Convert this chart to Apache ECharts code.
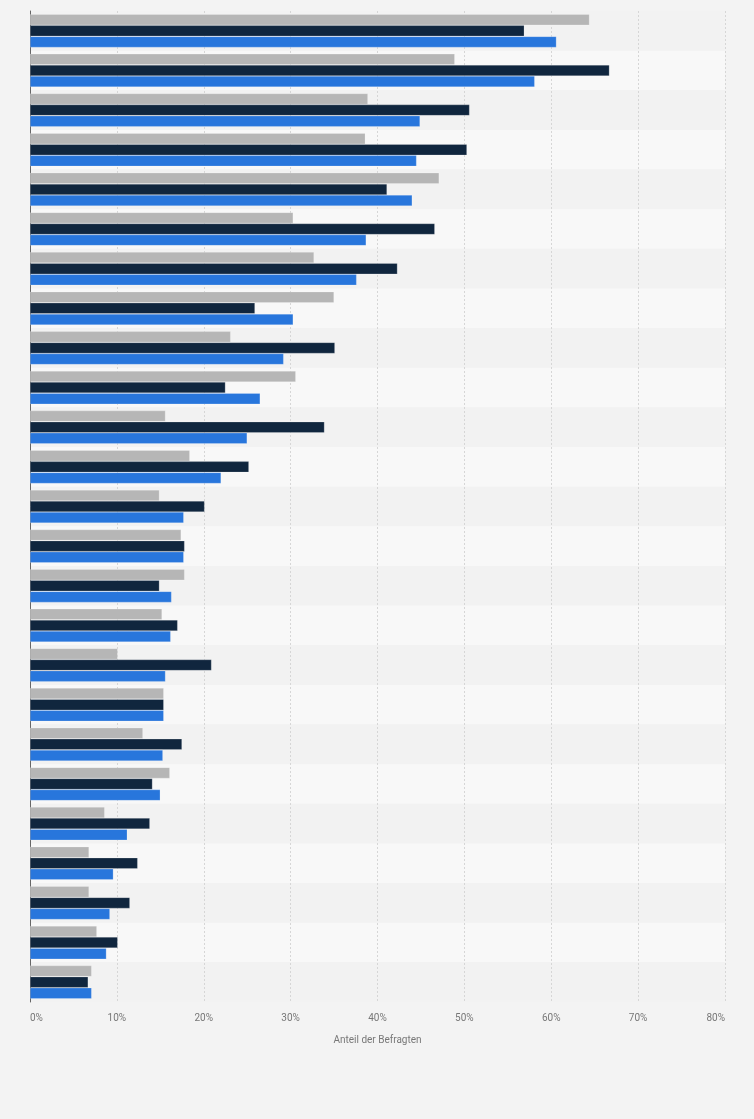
<!DOCTYPE html>
<html>
<head>
<meta charset="utf-8">
<script src="https://cdn.jsdelivr.net/npm/echarts@6/dist/echarts.min.js"></script>
<style>
html,body{margin:0;padding:0;background:#f3f3f3;}
#chart{width:754px;height:1119px;}
</style>
</head>
<body>
<div id="chart"></div>
<script>
const categories = ['K1','K2','K3','K4','K5','K6','K7','K8','K9','K10','K11','K12','K13','K14','K15','K16','K17','K18','K19','K20','K21','K22','K23','K24','K25'];
const seriesGray = [64.4,48.9,38.9,38.6,47.1,30.3,32.7,35.0,23.1,30.6,15.6,18.4,14.9,17.4,17.8,15.2,10.1,15.4,13.0,16.1,8.6,6.8,6.8,7.7,7.1];
const seriesNavy = [56.9,66.7,50.6,50.3,41.1,46.6,42.3,25.9,35.1,22.5,33.9,25.2,20.1,17.8,14.9,17.0,20.9,15.4,17.5,14.1,13.8,12.4,11.5,10.1,6.7];
const seriesBlue = [60.6,58.1,44.9,44.5,44.0,38.7,37.6,30.3,29.2,26.5,25.0,22.0,17.7,17.7,16.3,16.2,15.6,15.4,15.3,15.0,11.2,9.6,9.2,8.8,7.1];
const xTicks = [0,10,20,30,40,50,60,70,80];

const chart = echarts.init(document.getElementById('chart'), null, {renderer:'canvas'});
const barStyle = (c) => ({color:c, borderColor:'rgba(255,255,255,0.35)', borderWidth:0.6});
chart.setOption({
  backgroundColor:'#f3f3f3',
  animation:false,
  grid:{left:30,right:29,top:11,bottom:117,containLabel:false},
  xAxis:{
    type:'value', min:xTicks[0], max:xTicks[xTicks.length-1], interval:10,
    axisLine:{show:false}, axisTick:{show:false},
    axisLabel:{formatter:'{value}%', color:'#777', fontSize:10, fontFamily:'Roboto, sans-serif', margin:11, alignMinLabel:'left', alignMaxLabel:'right'},
    splitLine:{show:true, lineStyle:{color:'#d6d6d6', type:[2,2], width:1}},
    name:'Anteil der Befragten', nameLocation:'middle', nameGap:33,
    nameTextStyle:{color:'#777', fontSize:10, fontFamily:'Roboto, sans-serif'}
  },
  yAxis:{
    type:'category', data:categories, inverse:true,
    axisLine:{show:true, lineStyle:{color:'#666', width:1}},
    axisTick:{show:false}, axisLabel:{show:false},
    splitArea:{show:true, areaStyle:{color:['#f2f2f2','#f8f8f8']}}
  },
  series:[
    {type:'bar', data:seriesGray, itemStyle:barStyle('#b6b6b6'), barGap:'0%', barCategoryGap:'16%'},
    {type:'bar', data:seriesNavy, itemStyle:barStyle('#10263e'), barGap:'0%', barCategoryGap:'16%'},
    {type:'bar', data:seriesBlue, itemStyle:barStyle('#2876dc'), barGap:'0%', barCategoryGap:'16%'}
  ]
});
</script>
</body>
</html>
